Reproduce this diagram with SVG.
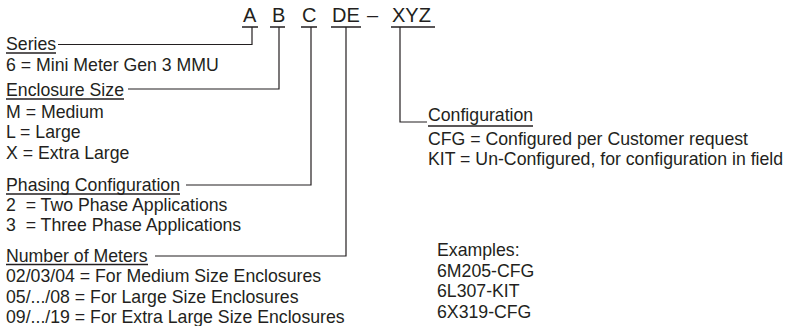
<svg xmlns="http://www.w3.org/2000/svg" width="785" height="326" viewBox="0 0 785 326">
<style>
text{font-family:"Liberation Sans",Arial,sans-serif;fill:#231f20;font-size:17.7px}
.code{font-size:20px}
.ln{stroke:#231f20;stroke-width:1.2;fill:none}
.ul{stroke:#231f20;stroke-width:1.3;fill:none}
</style>
<rect width="785" height="326" fill="#fff"/>
<g id="code">
<text class="code" x="243" y="22">A</text>
<text class="code" x="272" y="22">B</text>
<text class="code" x="302" y="22">C</text>
<text class="code" x="332" y="22">DE</text>
<text class="code" x="367" y="22">–</text>
<text class="code" x="392" y="22">XYZ</text>
<path class="ul" d="M242 27H258M270 27H285M301 27H317M331 27H361M391 27H435"/>
</g>
<g id="series">
<text x="6" y="50">Series</text>
<path class="ul" d="M6 53H56"/>
<text x="6" y="71">6 = Mini Meter Gen 3 MMU</text>
</g>
<g id="enclosure">
<text x="6" y="96">Enclosure Size</text>
<path class="ul" d="M6 99H124"/>
<text x="6" y="117.5">M = Medium</text>
<text x="6" y="138">L = Large</text>
<text x="6" y="159">X = Extra Large</text>
</g>
<g id="phasing">
<text x="6" y="191">Phasing Configuration</text>
<path class="ul" d="M6 194H180"/>
<text x="6" y="211">2&#160; = Two Phase Applications</text>
<text x="6" y="231">3&#160; = Three Phase Applications</text>
</g>
<g id="meters">
<text x="6" y="261.5">Number of Meters</text>
<path class="ul" d="M6 264.5H148"/>
<text x="6" y="282">02/03/04 = For Medium Size Enclosures</text>
<text x="6" y="302.5">05/.../08 = For Large Size Enclosures</text>
<text x="6" y="323">09/.../19 = For Extra Large Size Enclosures</text>
</g>
<g id="configuration">
<text x="428" y="121">Configuration</text>
<path class="ul" d="M428 126H533"/>
<text x="428" y="145">CFG = Configured per Customer request</text>
<text x="428" y="165">KIT = Un-Configured, for configuration in field</text>
</g>
<g id="examples">
<text x="437" y="256">Examples:</text>
<text x="437" y="276.5">6M205-CFG</text>
<text x="437" y="297">6L307-KIT</text>
<text x="437" y="317.5">6X319-CFG</text>
</g>
<g id="connectors">
<path class="ln" d="M58 44.5H252V27"/>
<path class="ln" d="M128 89H279V27"/>
<path class="ln" d="M186 185H311V27"/>
<path class="ln" d="M155 256H346V27"/>
<path class="ln" d="M400 27V122H427"/>
</g>
</svg>
